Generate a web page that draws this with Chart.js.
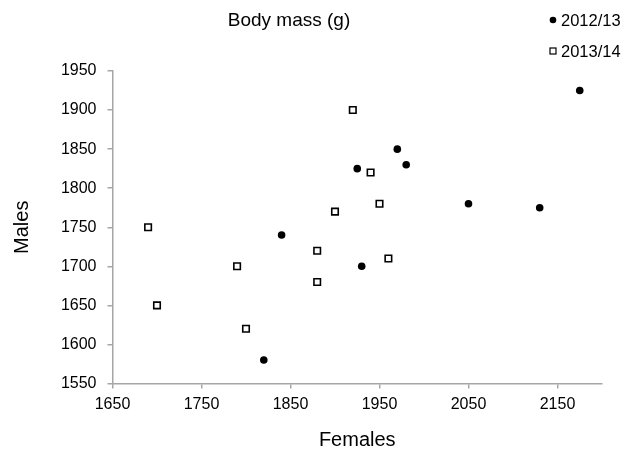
<!DOCTYPE html>
<html>
<head>
<meta charset="utf-8">
<script src="https://cdn.jsdelivr.net/npm/chart.js@4/dist/chart.umd.min.js"></script>
<style>
  html, body { margin: 0; padding: 0; background: #fff; }
  #wrap { width: 630px; height: 454px; }
</style>
</head>
<body>
<div id="wrap"><canvas id="chart" width="630" height="454"></canvas></div>
<script>
// Körpermasse: Weibchen (x) gegen Männchen (y), zwei Saisons
const SERIES_LABELS = ['2012/13', '2013/14'];

const females1213 = [1820, 1840, 1930, 1925, 1970, 1980, 2050, 2130, 2175];
const males1213   = [1580, 1740, 1700, 1825, 1850, 1830, 1780, 1775, 1925];

const females1314 = [1690, 1700, 1790, 1800, 1880, 1880, 1900, 1920, 1940, 1950, 1960];
const males1314   = [1750, 1650, 1700, 1620, 1720, 1680, 1770, 1900, 1820, 1780, 1710];

const X_MIN = 1650, X_MAX = 2200, X_STEP = 100;
const Y_MIN = 1550, Y_MAX = 1950, Y_STEP = 50;

const FONT = 'Arial, "Liberation Sans", sans-serif';
const AXIS_GREY = '#a6a6a6';

const toPoints = (xs, ys) => xs.map((x, i) => ({ x, y: ys[i] }));
const plain = v => String(v);

// Legende oben rechts, untereinander, wie im Original
const sideLegend = {
  id: 'sideLegend',
  afterDraw(chart) {
    const ctx = chart.ctx;
    const items = [
      { y: 20, ds: chart.data.datasets[0] },
      { y: 51, ds: chart.data.datasets[1] },
    ];
    ctx.save();
    ctx.font = '16.5px ' + FONT;
    ctx.textBaseline = 'middle';
    for (const it of items) {
      const mx = 553;
      if (it.ds.pointStyle === 'circle') {
        ctx.beginPath();
        ctx.arc(mx, it.y, 3.3, 0, Math.PI * 2);
        ctx.fillStyle = '#000';
        ctx.fill();
      } else {
        ctx.fillStyle = '#fff';
        ctx.fillRect(mx - 3, it.y - 3, 6, 6);
        ctx.strokeStyle = '#000';
        ctx.lineWidth = 1.2;
        ctx.strokeRect(mx - 3, it.y - 3, 6, 6);
      }
      ctx.fillStyle = '#000';
      ctx.fillText(it.ds.label, 561, it.y + 1);
    }
    ctx.restore();
  },
};

new Chart(document.getElementById('chart'), {
  type: 'scatter',
  data: {
    datasets: [
      {
        label: SERIES_LABELS[0],
        data: toPoints(females1213, males1213),
        pointStyle: 'circle',
        pointRadius: 3.8,
        pointBackgroundColor: '#000',
        pointBorderColor: '#000',
        pointBorderWidth: 0,
      },
      {
        label: SERIES_LABELS[1],
        data: toPoints(females1314, males1314),
        pointStyle: 'rect',
        pointRadius: 4.6,
        pointBackgroundColor: '#fff',
        pointBorderColor: '#000',
        pointBorderWidth: 1.6,
      },
    ],
  },
  options: {
    responsive: false,
    animation: false,
    layout: { padding: { top: 71, right: 28, left: 0, bottom: 0 } },
    plugins: {
      legend: { display: false },
      tooltip: { enabled: false },
      title: { display: false },
    },
    scales: {
      x: {
        type: 'linear',
        min: X_MIN,
        max: X_MAX,
        afterBuildTicks: s => {
          const t = [];
          for (let v = X_MIN; v < X_MAX; v += X_STEP) t.push({ value: v });
          s.ticks = t;
        },
        afterFit: s => { s.height = 70.5; },
        border: { color: AXIS_GREY, width: 1.5 },
        grid: { drawOnChartArea: false, tickLength: 5, color: AXIS_GREY, lineWidth: 1.5 },
        ticks: { font: { size: 16, family: FONT }, color: '#000', padding: 6, maxRotation: 0, callback: plain },
        title: { display: true, text: 'Females', font: { size: 20, family: FONT }, color: '#000', padding: { top: 0, bottom: 2 } },
      },
      y: {
        type: 'linear',
        min: Y_MIN,
        max: Y_MAX,
        ticks: { stepSize: Y_STEP, font: { size: 16, family: FONT }, color: '#000', padding: 11, callback: plain },
        afterFit: s => { s.width = 112.5; },
        border: { color: AXIS_GREY, width: 1.5 },
        grid: { drawOnChartArea: false, tickLength: 5, color: AXIS_GREY, lineWidth: 1.5 },
        title: { display: true, text: 'Males', font: { size: 20, family: FONT }, color: '#000', padding: { top: 10, bottom: 0 } },
      },
    },
  },
  plugins: [sideLegend, {
    id: 'topTitle',
    afterDraw(chart) {
      const ctx = chart.ctx;
      ctx.save();
      ctx.font = '19px ' + FONT;
      ctx.textAlign = 'center';
      ctx.textBaseline = 'middle';
      ctx.fillStyle = '#000';
      ctx.fillText('Body mass (g)', 289, 21);
      ctx.restore();
    },
  }],
});
</script>
</body>
</html>
